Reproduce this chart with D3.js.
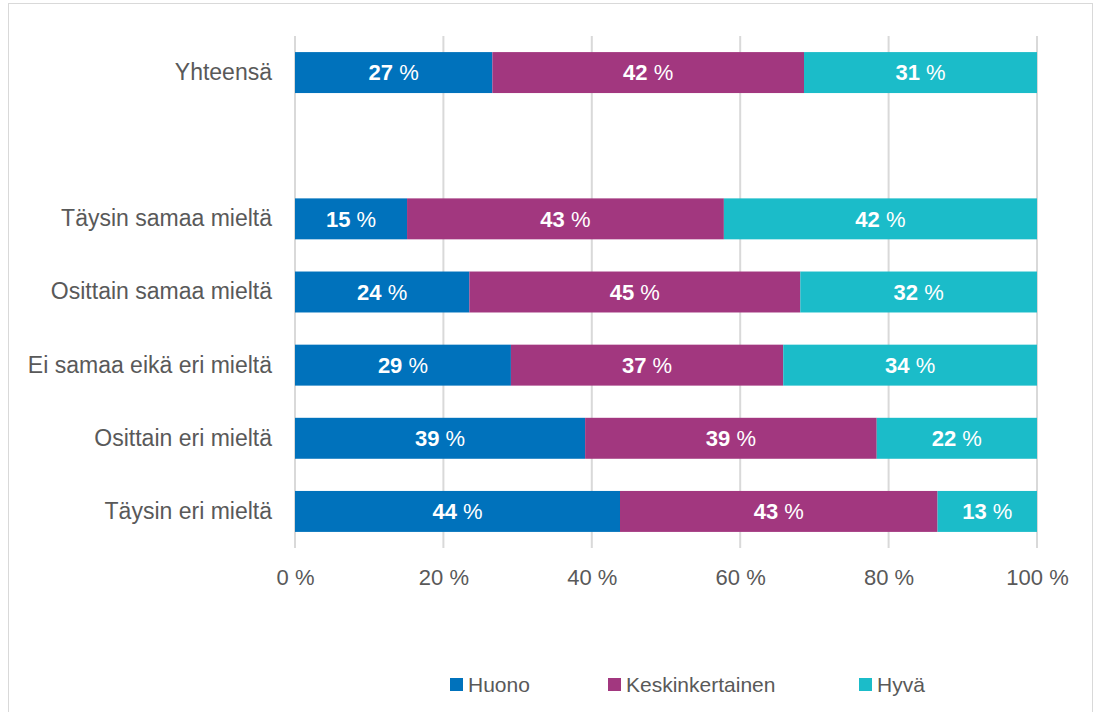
<!DOCTYPE html>
<html>
<head>
<meta charset="utf-8">
<script src="https://cdn.jsdelivr.net/npm/d3@7"></script>
<style>
  body { margin: 0; background: #fff; }
  svg { font-family: "Liberation Sans", Arial, sans-serif; }
</style>
</head>
<body>
<svg width="1096" height="712"></svg>
<script>
const svg = d3.select('svg');

// categories top to bottom, the empty one is the gap row
const categories = ['Yhteensä', '', 'Täysin samaa mieltä', 'Osittain samaa mieltä',
  'Ei samaa eikä eri mieltä', 'Osittain eri mieltä', 'Täysin eri mieltä'];
const seriesNames = ['Huono', 'Keskinkertainen', 'Hyvä'];
const huono = [26.6, null, 15.1, 23.5, 29.1, 39.1, 43.8];
const keskinkertainen = [42.0, null, 42.7, 44.6, 36.7, 39.3, 42.8];
const hyva = [31.4, null, 42.2, 31.9, 34.2, 21.6, 13.4];
const xTicks = [0, 20, 40, 60, 80, 100];
const colors = ['#0072bc', '#a2377f', '#1bbcc9'];

const margin = { top: 36, right: 59, bottom: 164, left: 295 };
const width = +svg.attr('width');
const height = +svg.attr('height');
const innerWidth = width - margin.left - margin.right;
const innerHeight = height - margin.top - margin.bottom;

// chart frame
svg.append('rect')
  .attr('x', 8.5).attr('y', 3.5)
  .attr('width', 1084).attr('height', 720)
  .attr('fill', 'none')
  .attr('stroke', '#d9d9d9');

const g = svg.append('g')
  .attr('transform', `translate(${margin.left},${margin.top})`);

const xScale = d3.scaleLinear().domain([0, 100]).range([0, innerWidth]);
const yScale = d3.scaleBand().domain(categories).range([0, innerHeight]).paddingInner(0.44).paddingOuter(0.22);

// gridlines
g.append('g')
  .selectAll('line').data(xTicks).enter().append('line')
    .attr('x1', d => xScale(d)).attr('x2', d => xScale(d))
    .attr('y1', 0).attr('y2', innerHeight)
    .attr('stroke', '#d9d9d9')
    .attr('stroke-width', 2);

// x axis labels
const xAxis = d3.axisBottom(xScale)
  .tickValues(xTicks)
  .tickSize(0)
  .tickPadding(21)
  .tickFormat(d => d + ' %');
const xAxisG = g.append('g')
  .attr('transform', `translate(0,${innerHeight})`)
  .call(xAxis);
xAxisG.select('.domain').remove();
xAxisG.selectAll('text')
  .attr('fill', '#595959')
  .style('font-size', '22px')
  .style('font-family', '"Liberation Sans", Arial, sans-serif');

// category labels
const yAxis = d3.axisLeft(yScale).tickSize(0).tickPadding(23);
const yAxisG = g.append('g').call(yAxis);
yAxisG.select('.domain').remove();
yAxisG.selectAll('text')
  .attr('fill', '#595959')
  .style('font-size', '23px')
  .style('font-family', '"Liberation Sans", Arial, sans-serif');

// stack rows
const rows = categories.map((c, i) => ({
  category: c, Huono: huono[i], Keskinkertainen: keskinkertainen[i], 'Hyvä': hyva[i]
})).filter(d => d.Huono !== null);

const stacked = d3.stack().keys(seriesNames)(rows);

const layers = g.selectAll('.layer').data(stacked).enter().append('g')
  .attr('class', 'layer')
  .attr('fill', (d, i) => colors[i]);

layers.selectAll('rect').data(d => d).enter().append('rect')
  .attr('x', d => xScale(d[0]))
  .attr('y', d => yScale(d.data.category))
  .attr('width', d => xScale(d[1]) - xScale(d[0]))
  .attr('height', yScale.bandwidth());

// value labels
const labels = layers.selectAll('text').data(d => d).enter().append('text')
  .attr('x', d => (xScale(d[0]) + xScale(d[1])) / 2)
  .attr('y', d => yScale(d.data.category) + yScale.bandwidth() / 2)
  .attr('dy', '0.35em')
  .attr('text-anchor', 'middle')
  .attr('fill', '#fff')
  .style('font-size', '22px');
labels.append('tspan')
  .attr('font-weight', 'bold')
  .text(d => Math.round(d[1] - d[0]));
labels.append('tspan')
  .text(' %');

// legend
const legendX = [450, 608, 859];
const legend = svg.append('g').selectAll('g').data(seriesNames).enter().append('g')
  .attr('transform', (d, i) => `translate(${legendX[i]},678)`);
legend.append('rect')
  .attr('width', 13).attr('height', 13)
  .attr('fill', (d, i) => colors[i]);
legend.append('text')
  .attr('x', 18).attr('y', 7)
  .attr('dy', '0.35em')
  .attr('fill', '#595959')
  .style('font-size', '21px')
  .text(d => d);
</script>
</body>
</html>
